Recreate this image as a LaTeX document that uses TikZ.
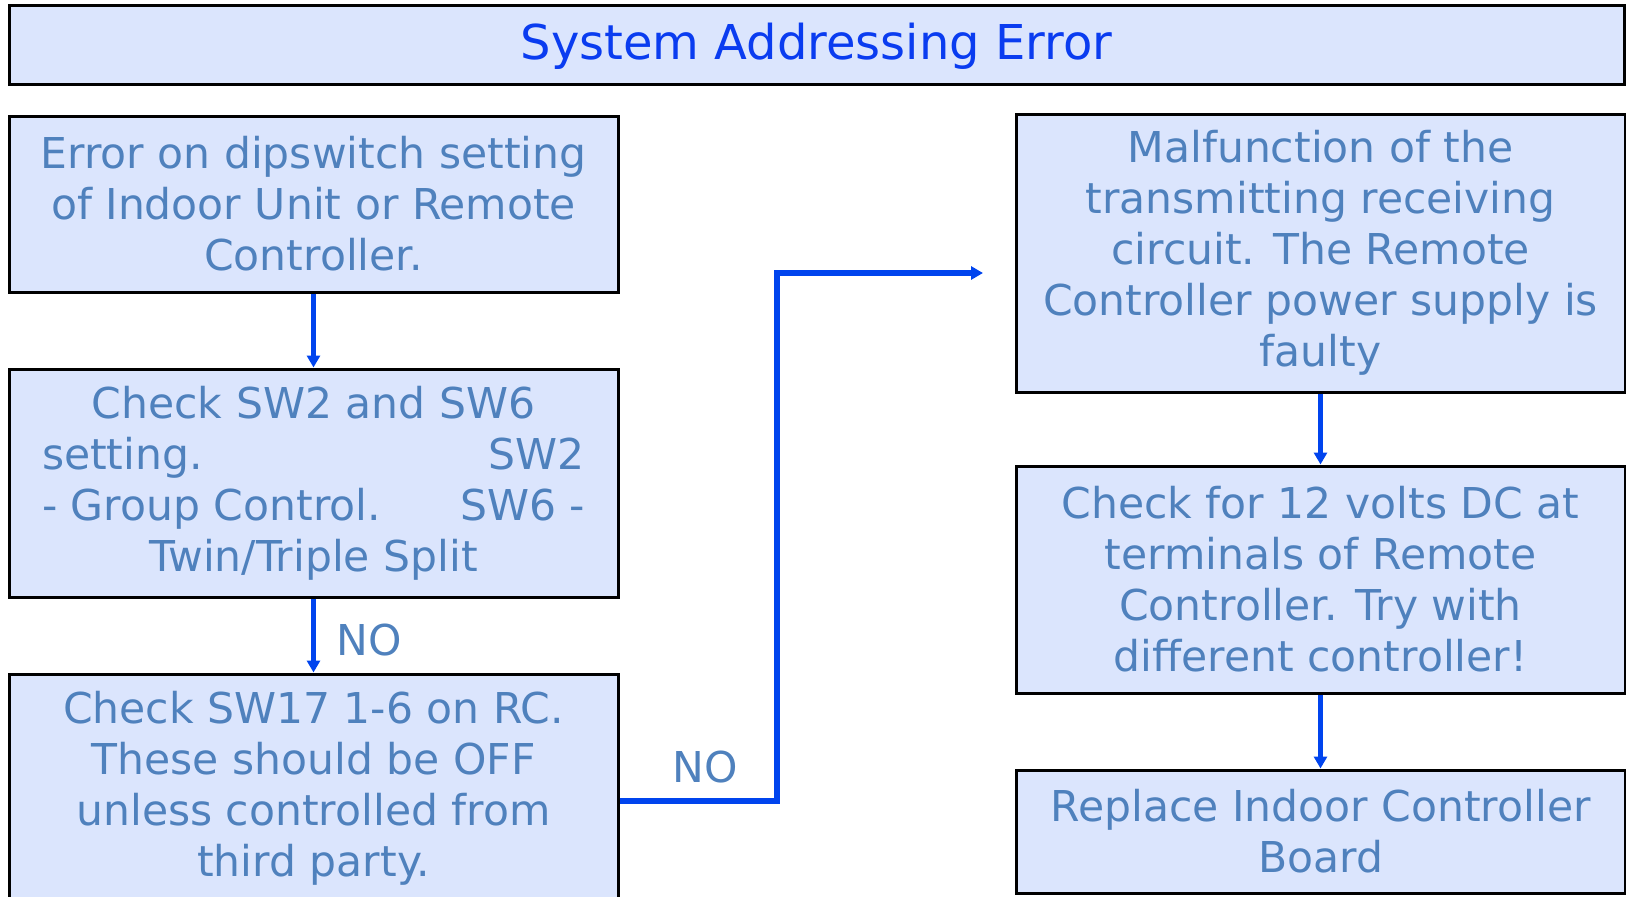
\documentclass[tikz,border=0pt]{standalone}
\usepackage{fontspec}
\setmainfont{DejaVu Sans}
\usetikzlibrary{arrows.meta}
\definecolor{boxfill}{RGB}{219,229,253}
\definecolor{boxtext}{RGB}{79,129,189}
\definecolor{titletext}{RGB}{10,60,240}
\definecolor{arrowblue}{RGB}{0,68,238}
\tikzset{
  box/.style={draw=black, line width=3pt, fill=boxfill, text=boxtext, inner sep=0pt, align=center,
    font=\fontsize{42.5}{51}\selectfont},
  titlebox/.style={draw=black, line width=3pt, fill=boxfill, text=titletext, inner sep=0pt,
    font=\fontsize{48}{56}\selectfont, text height=42pt, text depth=11.5pt},
  conn/.style={draw=arrowblue, line width=5.5pt, -{Triangle[length=12pt,width=13pt]}},
  lbl/.style={text=boxtext, font=\fontsize{42.5}{51}\selectfont, inner sep=0pt}
}
\begin{document}
\begin{tikzpicture}[x=1pt,y=-1pt]
\useasboundingbox (0,0) rectangle (1626,897);
\node[titlebox, minimum width=1615pt, minimum height=79pt] (title) at (816.5,44.5) {System Addressing Error};
\node[box, minimum width=609pt, minimum height=176pt] (b1) at (313.5,204)
  {Error on dipswitch setting\\of Indoor Unit or Remote\\Controller.};
\node[box, minimum width=609pt, minimum height=228pt] (b2) at (313.5,483)
  {Check SW2 and SW6\\\makebox[543pt]{setting.\hfill SW2}\\\makebox[543pt]{- Group Control.\hfill SW6 -}\\Twin/Triple Split};
\node[box, minimum width=609pt, minimum height=228pt] (b3) at (313.5,788)
  {Check SW17 1-6 on RC.\\These should be OFF\\unless controlled from\\third party.};
\node[box, minimum width=609pt, minimum height=278pt] (r1) at (1320.5,253)
  {Malfunction of the\\transmitting receiving\\circuit. The Remote\\Controller power supply is\\faulty};
\node[box, minimum width=609pt, minimum height=227pt] (r2) at (1320.5,579.5)
  {Check for 12 volts DC at\\terminals of Remote\\Controller. Try with\\different controller!};
\node[box, minimum width=609pt, minimum height=123pt] (r3) at (1320.5,831.5)
  {Replace Indoor Controller\\Board};
\coordinate (c1) at (620,801);
\coordinate (c2) at (777,801);
\coordinate (tipR) at (983,273);
\draw[conn] (b1.south) -- (b2.north);
\draw[conn] (b2.south) -- (b3.north);
\draw[conn] (r1.south) -- (r2.north);
\draw[conn] (r2.south) -- (r3.north);
\draw[conn, line join=miter] (b3.east |- c1) -- (c2) |- (tipR);
\node[lbl] (no1) at (369,640) {NO};
\node[lbl] (no2) at (705,767) {NO};
\end{tikzpicture}
\end{document}
